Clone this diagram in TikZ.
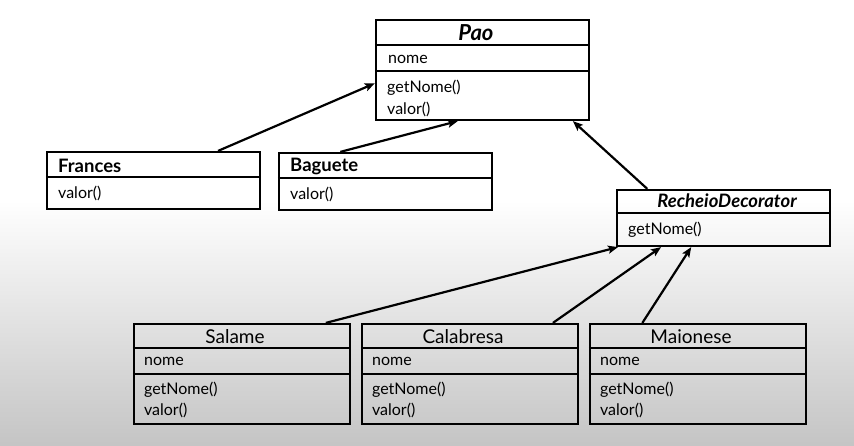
\documentclass[tikz,border=0pt]{standalone}
\usepackage{fontspec}
\setmainfont{Lato}
\usetikzlibrary{calc,arrows.meta,positioning}

\begin{document}
\begin{tikzpicture}
[	x=1pt, y=-1pt,
	classbox/.style={draw, line width=2.2pt, minimum width=213pt, inner sep=0pt},
	sepline/.style={line width=2.2pt},
	inherit/.style={line width=2.2pt, -{Stealth[length=10pt,width=8pt,inset=2pt]}},
	member/.style={anchor=west, inner sep=0pt, font=\fontsize{16}{19}\selectfont},
	abstitle/.style={inner sep=0pt, font=\fontsize{18.5}{22}\selectfont\bfseries\itshape},
	boldtitle/.style={anchor=west, inner sep=0pt, font=\fontsize{18.5}{22}\selectfont\bfseries},
	plaintitle/.style={inner sep=0pt, font=\fontsize{19}{22}\selectfont}
]
\useasboundingbox (0,0) rectangle (854,446);
% background, white to grey at the bottom
\fill[white] (0,0) rectangle (854,446);
\shade[top color=white, bottom color=black!23] (0,200) rectangle (854,446);

% abstract class Pao
\node(pao)[classbox, minimum height=100pt] at (482.5,70) {};
\draw[sepline] ($(pao.north west)+(0,26)$) -- ($(pao.north east)+(0,26)$);
\draw[sepline] ($(pao.north west)+(0,52)$) -- ($(pao.north east)+(0,52)$);
\node(paotitle)[abstitle, font=\fontsize{22}{26}\selectfont\bfseries\itshape] at (476,33) {Pao};
\node(paonome)[member] at (388,59) {nome};
\node(paoget)[member] at (387,88) {getNome()};
\node(paovalor)[member] at (387,109) {valor()};

% concrete breads
\node(frances)[classbox, minimum height=57pt] at (153.5,180.5) {};
\draw[sepline] ($(frances.north west)+(0,26)$) -- ($(frances.north east)+(0,26)$);
\node(francestitle)[boldtitle] at (58,165.5) {Frances};
\node(francesvalor)[member] at (58,193) {valor()};

\node(baguete)[classbox, minimum height=57pt] at (385.5,181.5) {};
\draw[sepline] ($(baguete.north west)+(0,26)$) -- ($(baguete.north east)+(0,26)$);
\node(baguetetitle)[boldtitle] at (290,166.5) {Baguete};
\node(baguetevalor)[member] at (290,194) {valor()};

% decorator
\node(recheio)[classbox, minimum height=56pt] at (723.5,218) {};
\draw[sepline] ($(recheio.north west)+(0,24)$) -- ($(recheio.north east)+(0,24)$);
\node(recheiotitle)[abstitle] at (727,201) {RecheioDecorator};
\node(recheioget)[member] at (628,230) {getNome()};

% concrete decorators
\node(salame)[classbox, minimum width=216pt, minimum height=100pt] at (242,374) {};
\node(calabresa)[classbox, minimum width=216pt, minimum height=100pt] at (470,374) {};
\node(maionese)[classbox, minimum width=216pt, minimum height=100pt] at (698,374) {};
\foreach \cls/\name in {salame/Salame, calabresa/Calabresa, maionese/Maionese}{
	\draw[sepline] ($(\cls.north west)+(0,25)$) -- ($(\cls.north east)+(0,25)$);
	\draw[sepline] ($(\cls.north west)+(0,51)$) -- ($(\cls.north east)+(0,51)$);
	\node(\cls title)[plaintitle] at ($(\cls.north)+(-7,14)$) {\name};
	\node(\cls nome)[member] at ($(\cls.north west)+(11,39)$) {nome};
	\node(\cls get)[member] at ($(\cls.north west)+(11,67)$) {getNome()};
	\node(\cls valor)[member] at ($(\cls.north west)+(11,88)$) {valor()};
}

% inheritance arrows
\draw[inherit] ($(frances.north west)!0.8!(frances.north east)$) -- ($(pao.north west)!0.63!(pao.south west)$);
\draw[inherit] ($(baguete.north west)!0.29!(baguete.north east)$) -- ($(pao.south west)!0.385!(pao.south east)$);
\draw[inherit] ($(recheio.north west)!0.146!(recheio.north east)$) -- ($(pao.south west)!0.92!(pao.south east)$);
\draw[inherit] ($(salame.north west)!0.884!(salame.north east)$) -- ($(recheio.south west)!0.01!(recheio.south east)$);
\draw[inherit] ($(calabresa.north west)!0.88!(calabresa.north east)$) -- ($(recheio.south west)!0.21!(recheio.south east)$);
\draw[inherit] ($(maionese.north west)!0.245!(maionese.north east)$) -- ($(recheio.south west)!0.35!(recheio.south east)$);

\end{tikzpicture}
\end{document}
